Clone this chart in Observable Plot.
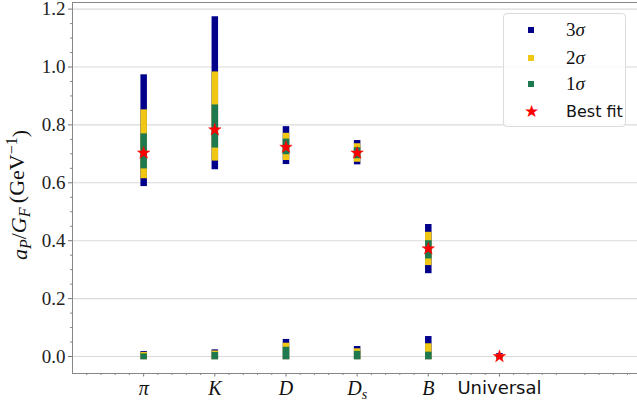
<!DOCTYPE html>
<html>
<head>
<meta charset="utf-8">
<script src="https://cdn.jsdelivr.net/npm/d3@7"></script>
<script src="https://cdn.jsdelivr.net/npm/@observablehq/plot@0.6"></script>
<style>
  html, body { margin: 0; padding: 0; background: #fff; }
  #wrap { position: relative; width: 637px; height: 405px; }
  #wrap svg { overflow: visible; }
  #legend {
    position: absolute; left: 503px; top: 13px; width: 123px; height: 114px;
    border: 1px solid #dcdcdc; border-radius: 4px; background: rgba(255,255,255,0.85);
    box-sizing: border-box;
  }
  .row { position: absolute; left: 0; height: 20px; width: 100%; }
  .sw { position: absolute; left: 24px; top: 7px; width: 6px; height: 6px; }
  .star { position: absolute; left: 20px; top: -1px; color: #ff0000; font-size: 17px; line-height: 20px; font-family: "DejaVu Sans"; }
  .lab { position: absolute; left: 62px; top: 0; line-height: 20px; font-size: 19px; font-family: "Liberation Serif", serif; color: #111; }
  .lab i { font-style: italic; }
  .sans { font-family: "DejaVu Sans", sans-serif; font-size: 16px; }
</style>
</head>
<body>
<div id="wrap"></div>
<script>
// ---- data ----
const categories = ["π", "K", "D", "Ds", "B", "Universal"];
const barCats = ["π", "K", "D", "Ds", "B"];

// upper bars (visual extents)
const lo3Upper = [0.587, 0.645, 0.663, 0.662, 0.286];
const hi3Upper = [0.973, 1.174, 0.794, 0.746, 0.456];
const lo2Upper = [0.614, 0.675, 0.677, 0.671, 0.314];
const hi2Upper = [0.852, 0.983, 0.771, 0.735, 0.429];
const lo1Upper = [0.648, 0.720, 0.697, 0.683, 0.337];
const hi1Upper = [0.769, 0.869, 0.751, 0.721, 0.400];

// lower bars (near zero), including Universal
const loLower  = [-0.011, -0.011, -0.011, -0.011, -0.011, -0.008];
const hi3Lower = [0.017, 0.023, 0.059, 0.0345, 0.069, 0.010];
const hi2Lower = [0.014, 0.019, 0.046, 0.0265, 0.044, 0.007];
const hi1Lower = [0.009, 0.014, 0.032, 0.018, 0.015, 0.004];

const bestFit = [0.703, 0.783, 0.723, 0.703, 0.372, 0.0];

const levels = ["3σ", "2σ", "1σ"];
const levelColors = ["#00008b", "#f0c814", "#1e7a4e"];

const yTicks = [0, 0.2, 0.4, 0.6, 0.8, 1.0, 1.2];
const yDomain = [-0.0587, 1.2228];
const xDomain = [0, 7.94];

// ---- build tables ----
const pos = c => categories.indexOf(c) + 1;
const segs = [];
const upperLo = [lo3Upper, lo2Upper, lo1Upper];
const upperHi = [hi3Upper, hi2Upper, hi1Upper];
const lowerHi = [hi3Lower, hi2Lower, hi1Lower];
levels.forEach((lev, li) => {
  barCats.forEach((c, i) => segs.push({x: pos(c), y1: upperLo[li][i], y2: upperHi[li][i], level: lev}));
  categories.forEach((c, i) => segs.push({x: pos(c), y1: loLower[i], y2: lowerHi[li][i], level: lev}));
});
const best = categories.map((c, i) => ({x: pos(c), y: bestFit[i]}));

const minorY = d3.range(0, 1.2001, 0.05).filter(v => Math.abs(Math.round(v * 5) - v * 5) > 1e-6);
const minorX = d3.range(0, 7.9, 0.2).filter(v => Math.abs(Math.round(v) - v) > 1e-6);
const majorX = categories.map(pos);

const chart = Plot.plot({
  width: 637,
  height: 405,
  marginLeft: 72,
  marginRight: 0,
  marginTop: 2,
  marginBottom: 32,
  x: {domain: xDomain, axis: null},
  y: {domain: yDomain, axis: null},
  color: {domain: levels, range: levelColors},
  style: {fontFamily: "Liberation Serif, serif", background: "#fff", overflow: "visible"},
  marks: [
    Plot.gridY(yTicks, {stroke: "#dadada", strokeOpacity: 1, strokeWidth: 1.1}),
    Plot.axisY(yTicks, {tickSize: 4, tickPadding: 3, stroke: "#777", fontSize: 19, fill: "#222",
      tickFormat: d => d.toFixed(1), label: null}),
    Plot.axisY(minorY, {tickSize: 2, stroke: "#888", tickFormat: () => "", label: null}),
    Plot.axisX(majorX, {tickSize: 3.5, tickPadding: 4, stroke: "#777", fontSize: 20, fill: "#111",
      fontStyle: "italic", tickFormat: d => categories[d - 1], label: null}),
    Plot.axisX(minorX, {tickSize: 2, stroke: "#888", tickFormat: () => "", label: null}),
    Plot.ruleX([xDomain[0]], {stroke: "#888", strokeWidth: 1}),
    Plot.ruleY([yDomain[0]], {stroke: "#888", strokeWidth: 1}),
    Plot.ruleY([yDomain[1]], {stroke: "#888", strokeWidth: 1}),
    Plot.ruleX(segs, {x: "x", y1: "y1", y2: "y2", stroke: "level", strokeWidth: 6.5}),
    Plot.dot(best, {x: "x", y: "y", symbol: "star", r: 3.9, fill: "#ff0000", stroke: "#ff0000", strokeWidth: 0.5})
  ]
});

const wrap = document.getElementById("wrap");
wrap.appendChild(chart);

// post-process x tick labels (subscript and sans label)
const svg = d3.select(chart);
svg.selectAll("g[aria-label='x-axis tick label'] text").each(function() {
  const t = d3.select(this);
  const s = t.text();
  if (s === "Ds") {
    t.text("");
    t.append("tspan").text("D");
    t.append("tspan").attr("font-size", 14).attr("dy", "0.3em").text("s");
  } else if (s === "Universal") {
    t.attr("font-family", "DejaVu Sans, sans-serif").attr("font-style", "normal").attr("font-size", 18);
  }
});

// y-axis label
const yl = svg.append("text")
  .attr("transform", "translate(27,195) rotate(-90)")
  .attr("text-anchor", "middle")
  .attr("font-family", "Liberation Serif, serif")
  .attr("font-size", 22)
  .attr("fill", "#111");
yl.append("tspan").attr("font-style", "italic").text("a");
yl.append("tspan").attr("font-style", "italic").attr("font-size", 16).attr("dy", "0.25em").text("P");
yl.append("tspan").attr("dy", "-0.25em").text("/");
yl.append("tspan").attr("font-style", "italic").text("G");
yl.append("tspan").attr("font-style", "italic").attr("font-size", 16).attr("dy", "0.25em").text("F");
yl.append("tspan").attr("dy", "-0.25em").text("\u2009(GeV");
yl.append("tspan").attr("font-size", 16).attr("dy", "-0.45em").text("\u22121");
yl.append("tspan").attr("dy", "0.45em").text(")");

// legend
const legend = document.createElement("div");
legend.id = "legend";
const rowsTop = [6, 34, 60, 88];
levels.forEach((lev, i) => {
  const row = document.createElement("div");
  row.className = "row";
  row.style.top = rowsTop[i] + "px";
  row.innerHTML = `<div class="sw" style="background:${levelColors[i]}"></div>` +
    `<div class="lab">${lev[0]}<i>σ</i></div>`;
  legend.appendChild(row);
});
const rowB = document.createElement("div");
rowB.className = "row";
rowB.style.top = rowsTop[3] + "px";
rowB.innerHTML = `<div class="star">★</div><div class="lab sans">Best fit</div>`;
legend.appendChild(rowB);
wrap.appendChild(legend);
</script>
</body>
</html>
